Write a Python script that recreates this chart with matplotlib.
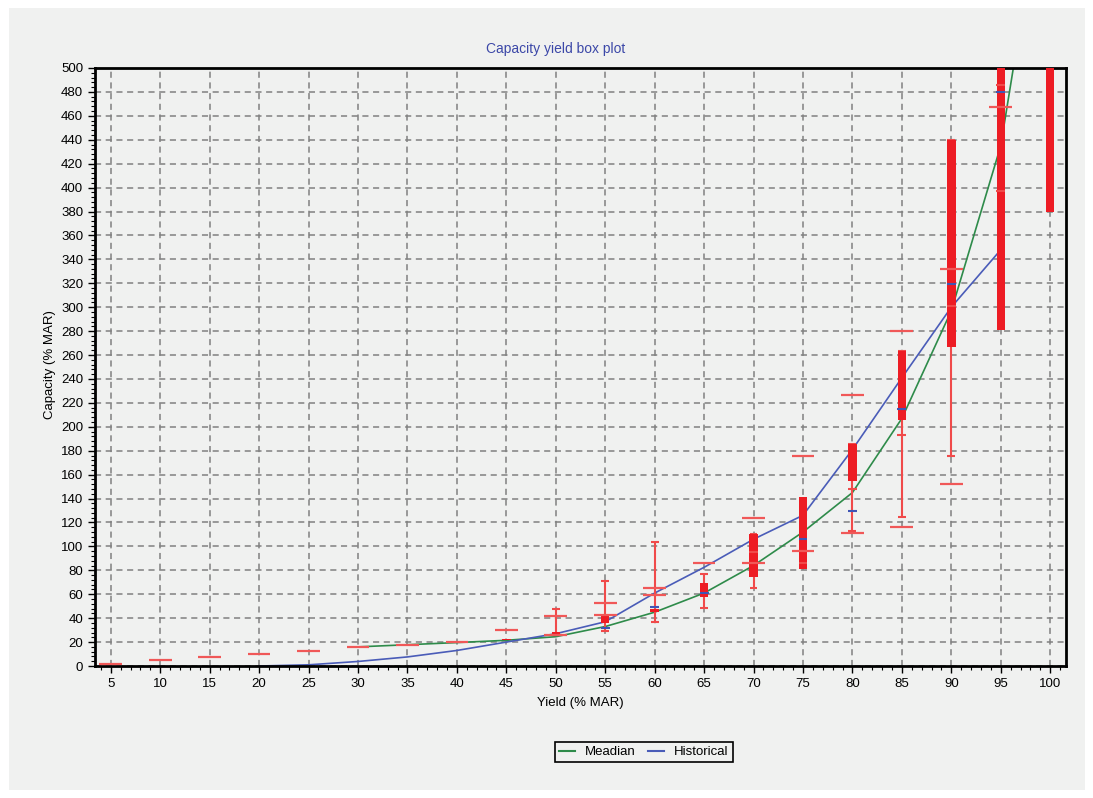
import numpy as np
import matplotlib.pyplot as plt
from matplotlib.patches import Rectangle
from matplotlib.lines import Line2D
from matplotlib.ticker import MultipleLocator

plt.rcParams['font.family'] = ['Liberation Sans', 'DejaVu Sans']

nan = np.nan

# yield levels (% MAR)
yields = [5, 10, 15, 20, 25, 30, 35, 40, 45, 50, 55, 60, 65, 70, 75, 80, 85, 90, 95, 100]

# red box (lower / upper)
box_low = [nan, nan, nan, nan, nan, nan, nan, nan, 21.5, 26, 35.7, 45, 57.8, 74.8, 81, 154.4, 205.5, 267, 281, 380]
box_high = [nan, nan, nan, nan, nan, nan, nan, nan, 23, 28.5, 43.2, 47.8, 69.5, 110.3, 141, 186, 263.4, 440, 560, 640]

# whiskers
whisk_low = [nan, nan, nan, nan, nan, nan, nan, nan, nan, 26, 29.5, 37, 48.6, 65, nan, 113, 125, 176, nan, nan]
whisk_high = [nan, nan, nan, nan, nan, nan, nan, nan, nan, 47.8, 71.4, 104, 77.3, 110.3, nan, 186, 263.4, 440, nan, nan]

# small red marks
mark_a = [nan, nan, nan, nan, nan, nan, nan, nan, nan, nan, nan, nan, nan, 95.5, 86, 148, 193.5, 301, 397, nan]
mark_b = [nan, nan, nan, nan, nan, nan, nan, nan, nan, nan, nan, nan, nan, nan, nan, nan, nan, nan, 486, nan]

# wide red marks
wide_high = [1.6, 5.2, 7.6, 10, 12.2, 15.6, 17.8, 20.2, 30, 42, 53, 65, 86.2, 123.4, 175.8, 227, 280, 332, 467, nan]
wide_low = [nan, nan, nan, nan, nan, nan, nan, nan, nan, 26, 43, 59.5, nan, 86, 95.8, 111, 116, 152.5, nan, nan]

# blue marks
blue_mark = [nan, nan, nan, nan, nan, nan, nan, nan, nan, nan, 32, 49.7, 60.8, nan, 106, 129.3, 214.5, 319, 480, nan]

# curves
median = [nan, nan, nan, nan, nan, 16, 17.8, 19.6, 21.5, 24.5, 33, 45, 61, 84, 112, 145, 207, 297, 435, 690]
historical = [nan, nan, nan, 0, 1, 3.8, 7.6, 13, 20, 27, 37, 61, 82.5, 106, 126, 181, 241, 300, 348, nan]


def pick(xs, ys):
    pts = [(x, y) for x, y in zip(xs, ys) if not np.isnan(y)]
    return [p[0] for p in pts], [p[1] for p in pts]


fig = plt.figure(figsize=(10.93, 7.98), dpi=100)
fig.patch.set_facecolor('white')
fig.patches.append(Rectangle((0.008, 0.01), 0.985, 0.98, transform=fig.transFigure,
                             facecolor='#f0f1f0', edgecolor='none', zorder=-10))

ax = fig.add_axes([0.0869, 0.1654, 0.8884, 0.7494])
ax.set_facecolor('#f0f1f0')
ax.set_xlim(3.4, 101.6)
ax.set_ylim(0, 500)

ax.xaxis.set_major_locator(MultipleLocator(5))
ax.xaxis.set_minor_locator(MultipleLocator(1))
ax.yaxis.set_major_locator(MultipleLocator(20))
ax.yaxis.set_minor_locator(MultipleLocator(4))
ax.grid(True, which='major', linestyle=(0, (4, 3)), color='#808080', linewidth=1.1, zorder=0)
ax.set_axisbelow(True)
for s in ax.spines.values():
    s.set_linewidth(2)
    s.set_color('black')
ax.tick_params(which='major', length=5, width=1, labelsize=9.5, colors='black')
ax.tick_params(which='minor', length=3, width=0.8)

# curves
mx, my = pick(yields, median)
ax.plot(mx, my, color='#2e8b4a', lw=1.2, zorder=2)
hx, hy = pick(yields, historical)
ax.plot(hx, hy, color='#4a5cb8', lw=1.2, zorder=2)

# whiskers and caps (below the boxes)
wx, wl = pick(yields, whisk_low)
_, wh = pick(yields, whisk_high)
ax.vlines(wx, wl, wh, color='#f04a4a', lw=1.5, zorder=3)
ax.hlines(wl, np.array(wx) - 0.4, np.array(wx) + 0.4, color='#f04a4a', lw=1.5, zorder=3)
ax.hlines(wh, np.array(wx) - 0.4, np.array(wx) + 0.4, color='#f04a4a', lw=1.5, zorder=3)

# boxes
bx, bl = pick(yields, box_low)
_, bh = pick(yields, box_high)
ax.bar(bx, np.array(bh) - np.array(bl), bottom=bl, width=0.85, color='#ed1c24', zorder=3.5)

for arr in (mark_a, mark_b):
    x, y = pick(yields, arr)
    ax.hlines(y, np.array(x) - 0.45, np.array(x) + 0.45, color='#f04a4a', lw=1.5, zorder=4)

for arr in (wide_high, wide_low):
    x, y = pick(yields, arr)
    ax.hlines(y, np.array(x) - 1.15, np.array(x) + 1.15, color='#f05858', lw=1.6, zorder=4)

x, y = pick(yields, blue_mark)
ax.hlines(y, np.array(x) - 0.45, np.array(x) + 0.45, color='#3f55b5', lw=1.5, zorder=5)

fig.text(0.508, 0.9386, 'Capacity yield box plot', color='#3c48a8', ha='center', va='center', fontsize=10)
fig.text(0.531, 0.119, 'Yield (% MAR)', ha='center', va='center', fontsize=9.5)
fig.text(0.0457, 0.5426, 'Capacity (% MAR)', ha='center', va='center', rotation=90, fontsize=9.5)

handles = [Line2D([], [], color='#2e8b4a', lw=1.5), Line2D([], [], color='#4a5cb8', lw=1.5)]
leg = fig.legend(handles, ['Meadian', 'Historical'], loc='center', bbox_to_anchor=(0.589, 0.0576),
                 ncol=2, fancybox=False, edgecolor='black', facecolor='#f0f1f0', framealpha=1,
                 handlelength=1.2, columnspacing=0.9, handletextpad=0.8, fontsize=9.5,
                 borderpad=0.3)
leg.get_frame().set_linewidth(1.2)

fig.savefig('out.png', dpi=100)
